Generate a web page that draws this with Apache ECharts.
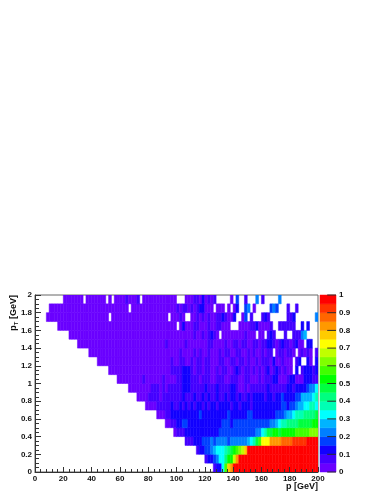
<!DOCTYPE html>
<html><head><meta charset="utf-8">
<style>html,body{margin:0;padding:0;background:#fff}#c{width:382px;height:494px}</style>
<script src="https://cdn.jsdelivr.net/npm/echarts@6/dist/echarts.min.js"></script></head>
<body><div id="c"></div>
<script>
const N=null, a=.03, b=.08, c=.13;
// fraction per 2 GeV p bin (100 columns), one list for each 0.1 GeV pT row
const row00=[N,N,N,N,N,N,N,N,N,N, N,N,N,N,N,N,N,N,N,N, N,N,N,N,N,N,N,N,N,N, N,N,N,N,N,N,N,N,N,N, N,N,N,N,N,N,N,N,N,N, N,N,N,N,N,N,N,N,N,N, N,N,N,b,c,c,.33,.55,.75,.85, .98,.98,.98,.98,.98,.98,.98,.98,.98,.98, .98,.98,.98,.98,.98,.98,.98,.98,.98,.98, .98,.98,.98,.98,.98,.98,.98,.98,.98,.98];
const row01=[N,N,N,N,N,N,N,N,N,N, N,N,N,N,N,N,N,N,N,N, N,N,N,N,N,N,N,N,N,N, N,N,N,N,N,N,N,N,N,N, N,N,N,N,N,N,N,N,N,N, N,N,N,N,N,N,N,N,N,N, b,c,c,.18,.23,.3,.33,.43,.5,.52, .7,.85,.98,.98,.98,.98,.98,.98,.98,.98, .98,.98,.98,.98,.98,.98,.98,.98,.98,.98, .98,.98,.98,.98,.98,.98,.98,.98,.98,.98];
const row02=[N,N,N,N,N,N,N,N,N,N, N,N,N,N,N,N,N,N,N,N, N,N,N,N,N,N,N,N,N,N, N,N,N,N,N,N,N,N,N,N, N,N,N,N,N,N,N,N,N,N, N,N,N,N,N,N,N,b,c,c, .18,.18,.23,.28,.33,.33,.33,.38,.43,.48, .53,.58,.63,.68,.78,.98,.98,.98,.98,.98, .98,.98,.98,.98,.98,.98,.98,.98,.98,.98, .98,.98,.98,.98,.98,.98,.98,.98,.98,.98];
const row03=[N,N,N,N,N,N,N,N,N,N, N,N,N,N,N,N,N,N,N,N, N,N,N,N,N,N,N,N,N,N, N,N,N,N,N,N,N,N,N,N, N,N,N,N,N,N,N,N,N,N, N,N,N,b,b,b,c,c,c,.18, .18,.18,.23,.18,.23,.23,.23,.23,.18,.23, .23,.23,.23,.23,.23,.28,.33,.38,.48,.58, .73,.73,.73,.83,.83,.83,.83,.88,.88,.88, .88,.93,.93,.93,.93,.93,.98,.98,.98,.98];
const row04=[N,N,N,N,N,N,N,N,N,N, N,N,N,N,N,N,N,N,N,N, N,N,N,N,N,N,N,N,N,N, N,N,N,N,N,N,N,N,N,N, N,N,N,N,N,N,N,N,N,a, b,b,b,c,c,c,c,c,c,c, c,c,c,c,c,.18,.18,.18,.18,.18, .18,.18,.18,.18,.18,.18,.18,.18,.23,.23, .33,.38,.48,.48,.53,.53,.48,.53,.53,.53, .53,.53,.58,.58,.58,.58,.58,.63,.63,.63];
const row05=[N,N,N,N,N,N,N,N,N,N, N,N,N,N,N,N,N,N,N,N, N,N,N,N,N,N,N,N,N,N, N,N,N,N,N,N,N,N,N,N, N,N,N,N,N,N,a,a,b,b, c,c,.18,.18,c,c,c,c,c,c, c,c,c,c,c,c,.18,.18,.18,c, .18,.18,.18,.18,.18,.18,.18,.18,.18,.18, .18,.18,.18,.23,.23,.28,.33,.38,.38,.43, .43,.43,.43,.48,.48,.48,.48,.48,.53,.53];
const row06=[N,N,N,N,N,N,N,N,N,N, N,N,N,N,N,N,N,N,N,N, N,N,N,N,N,N,N,N,N,N, N,N,N,N,N,N,N,N,N,N, N,N,N,a,a,a,b,b,c,c, c,c,c,c,c,c,c,c,.18,c, c,c,c,c,c,c,c,c,.18,c, c,c,c,c,c,.18,.18,c,c,c, c,c,c,c,c,.18,.18,.18,.23,.28, .28,.33,.38,.38,.38,.43,.43,.43,.43,.48];
const row07=[N,N,N,N,N,N,N,N,N,N, N,N,N,N,N,N,N,N,N,N, N,N,N,N,N,N,N,N,N,N, N,N,N,N,N,N,N,N,N,a, a,a,a,b,b,b,b,b,c,b, b,c,b,c,b,c,b,c,c,b, c,b,c,c,b,c,c,c,c,b, c,c,b,c,c,c,b,c,c,c, c,c,c,c,c,c,c,.18,.18,c, .18,.18,.23,.28,.28,.33,.33,.38,.38,.33];
const row08=[N,N,N,N,N,N,N,N,N,N, N,N,N,N,N,N,N,N,N,N, N,N,N,N,N,N,N,N,N,N, N,N,N,N,N,N,a,a,a,a, b,b,b,b,a,b,b,b,b,b, b,b,c,b,b,b,c,b,b,c, b,c,b,b,c,b,b,c,b,c, c,b,c,b,b,c,b,c,c,c, c,b,c,c,b,c,c,.18,c,c, c,c,.18,.18,.28,.28,.28,.28,.33,.38];
const row09=[N,N,N,N,N,N,N,N,N,N, N,N,N,N,N,N,N,N,N,N, N,N,N,N,N,N,N,N,N,N, N,N,N,a,a,a,a,a,a,a, a,b,b,b,a,b,a,b,b,b, b,b,c,c,c,b,b,b,b,b, c,b,b,b,c,b,b,b,b,c, c,b,a,a,b,a,b,b,b,b, b,b,c,b,b,b,b,b,b,c, c,b,c,c,c,c,.18,.23,.23,.33];
const row10=[N,N,N,N,N,N,N,N,N,N, N,N,N,N,N,N,N,N,N,N, N,N,N,N,N,N,N,N,N,a, a,a,a,a,a,a,a,a,b,a, a,a,a,a,a,b,a,a,a,a, b,b,c,c,c,b,b,b,a,b, b,b,a,a,b,b,b,a,a,b, b,b,a,a,b,b,a,a,a,b, a,b,b,b,c,c,a,a,a,b, c,c,a,a,a,c,c,c,b,b];
const row11=[N,N,N,N,N,N,N,N,N,N, N,N,N,N,N,N,N,N,N,N, N,N,N,N,N,N,a,a,a,a, a,a,a,a,a,a,a,a,a,a, a,a,a,a,a,a,a,a,b,b, b,b,c,c,c,b,a,b,b,a, b,b,a,a,b,a,b,b,a,a, b,c,b,a,b,b,a,b,a,b, a,b,c,a,b,c,b,a,b,a, a,N,c,N,b,c,c,c,b,c];
const row12=[N,N,N,N,N,N,N,N,N,N, N,N,N,N,N,N,N,N,N,N, N,N,a,a,a,a,a,a,a,a, a,a,a,a,a,a,a,a,a,a, a,a,a,a,a,a,a,a,b,a, a,b,b,a,a,b,a,b,b,a, b,b,a,a,a,b,b,a,a,b, b,a,b,b,a,b,a,a,b,a, b,b,b,a,c,a,a,b,a,a, a,N,b,c,N,N,c,a,N,c];
const row13=[N,N,N,N,N,N,N,N,N,N, N,N,N,N,N,N,N,N,N,a, a,a,a,a,a,a,a,a,a,a, a,a,a,a,a,a,a,a,a,a, a,a,a,a,a,a,a,a,a,a, a,b,a,a,a,a,b,a,b,a, a,b,a,a,a,b,a,b,b,a, a,b,b,a,a,b,a,b,a,a, b,a,b,b,N,a,b,b,a,b, b,a,N,a,b,a,b,a,N,b];
const row14=[N,N,N,N,N,N,N,N,N,N, N,N,N,N,N,a,a,a,a,a, a,a,a,a,a,a,a,a,a,a, a,a,a,a,a,a,a,a,a,a, a,a,a,a,a,a,b,a,a,a, a,a,a,b,a,a,a,a,a,a, a,b,b,a,a,a,a,b,a,a, b,b,a,b,b,a,a,b,b,a, b,b,c,c,b,a,b,c,b,b, a,b,c,a,a,N,c,c,N,N];
const row15=[N,N,N,N,N,N,N,N,N,N, N,N,a,a,a,a,a,a,a,a, a,a,a,a,a,a,a,a,a,a, a,a,a,a,a,a,a,a,a,a, a,a,a,a,a,a,a,a,a,a, a,a,a,a,a,a,b,a,a,b, a,b,c,b,a,N,a,a,a,a, a,a,a,a,b,a,a,a,N,a, a,N,b,c,b,N,N,N,b,N, N,b,b,b,.23,.28,N,N,N,N];
const row16=[N,N,N,N,N,N,N,N,a,a, a,a,a,a,a,a,a,a,a,a, a,a,a,a,a,a,a,a,a,a, a,a,a,a,a,a,a,a,a,a, a,a,a,a,a,a,a,a,a,a, N,a,c,a,a,a,b,b,a,a, a,b,a,a,b,b,a,a,a,N, N,N,a,a,a,a,b,b,c,a, a,a,a,b,N,N,b,b,b,b, b,b,N,N,c,N,c,N,N,N];
const row17=[N,N,N,N,a,a,a,a,a,a, a,a,a,a,a,a,a,a,a,a, a,a,a,a,a,a,N,a,a,a, a,a,a,a,a,a,a,a,a,a, a,a,a,a,a,a,a,N,a,a, a,b,a,N,N,a,a,b,a,b, a,b,a,a,b,b,c,b,a,a, c,N,N,a,.18,N,b,N,N,N, b,c,b,N,N,N,N,N,N,b, b,c,N,N,N,N,N,N,N,.23];
const row18=[N,N,N,N,N,a,a,a,a,a, a,a,a,a,a,a,a,a,a,a, a,a,a,a,a,a,a,a,a,a, a,a,a,N,a,a,a,a,a,a, a,a,a,a,a,a,a,a,a,a, b,a,b,b,a,b,a,b,c,c, a,a,a,N,a,a,a,N,a,N, a,c,N,N,.18,.23,N,a,N,N, N,N,N,.18,.23,.18,N,N,N,b, N,N,b,N,N,N,N,N,N,N];
const row19=[N,N,N,N,N,N,N,N,N,N, a,a,a,a,a,a,a,N,a,a, a,a,a,a,a,N,a,N,a,a, a,a,b,a,a,a,b,N,a,a, a,a,a,a,a,a,a,a,a,a, N,N,N,a,a,a,b,b,a,c, a,b,a,b,N,N,N,N,N,a, N,.18,N,N,b,N,N,N,.23,N, b,N,N,N,N,N,.23,N,N,N, N,N,N,N,N,N,N,N,N,N];
const rows=[row00,row01,row02,row03,row04,row05,row06,row07,row08,row09,row10,row11,row12,row13,row14,row15,row16,row17,row18,row19];

const zTicks=[0,.1,.2,.3,.4,.5,.6,.7,.8,.9,1];
const palette=['#6a00ff','#4400ff','#1200ff','#0040ff','#0080ff','#00b4ff','#00ffff','#00ffb4','#00ff80','#00ff40','#00ff00','#40ff00','#80ff00','#c0ff00','#ffff00','#ffcc00','#ff9900','#ff6600','#ff3300','#ff0000'];
const barLevels=[0,.05,.1,.15,.2,.25,.3,.35,.4,.45,.5,.55,.6,.65,.7,.75,.8,.85,.9,.95];

const cells=[];
rows.forEach((r,j)=>r.forEach((v,i)=>{ if(v!==null) cells.push([i*2,j/10,i*2+2,(j+1)/10,v]); }));
const barCells=barLevels.map(l=>[0,l,1,l+.05,l+.025]);

function renderCell(p,api){
  const s=api.coord([api.value(0),api.value(1)]), e=api.coord([api.value(2),api.value(3)]);
  const col=api.visual('color');
  return {type:'rect',shape:{x:s[0],y:e[1],width:e[0]-s[0],height:s[1]-e[1]},style:{fill:col,stroke:col,lineWidth:.5}};
}
function renderBarTick(p,api){
  const s=api.coord([.45,api.value(0)]), e=api.coord([1,api.value(0)]);
  return {type:'line',shape:{x1:s[0],y1:s[1],x2:e[0],y2:e[1]},style:{stroke:'#2a2a2a',lineWidth:1}};
}
const F='"Liberation Sans",Arial,sans-serif';
const lab={fontFamily:F,fontWeight:'bold',fontSize:8,color:'#111'};
const ink='#333';
const chart=echarts.init(document.getElementById('c'),null,{renderer:'canvas'});
chart.setOption({
  animation:false,backgroundColor:'#fff',
  grid:[
    {left:35,top:295,width:283,height:177,show:true,borderColor:'#666',borderWidth:1,backgroundColor:'transparent',containLabel:false},
    {left:320,top:295,width:16,height:177,show:false}
  ],
  xAxis:[
    {type:'value',gridIndex:0,min:0,max:200,interval:20,z:5,splitLine:{show:false},
     axisLine:{show:true,onZero:false,lineStyle:{color:ink,width:1}},
     axisTick:{show:true,inside:true,length:5,lineStyle:{color:ink}},
     minorTick:{show:true,splitNumber:5,length:3,lineStyle:{color:ink}},
     axisLabel:Object.assign({margin:3,showMinLabel:true,showMaxLabel:true,hideOverlap:false,formatter:v=>String(v)},lab)},
    {type:'value',gridIndex:1,min:0,max:1,show:false,splitLine:{show:false}}
  ],
  yAxis:[
    {type:'value',gridIndex:0,min:0,max:2,interval:.2,z:5,splitLine:{show:false},
     axisLine:{show:true,onZero:false,lineStyle:{color:ink,width:1}},
     axisTick:{show:true,inside:true,length:6,lineStyle:{color:ink}},
     minorTick:{show:true,splitNumber:4,length:4,lineStyle:{color:ink}},
     axisLabel:Object.assign({margin:3,showMinLabel:true,showMaxLabel:true,hideOverlap:false,formatter:v=>String(+v.toFixed(1))},lab)},
    {type:'value',gridIndex:1,min:0,max:1,interval:.1,position:'right',z:5,splitLine:{show:false},
     axisLine:{show:false},axisTick:{show:false},
     axisLabel:Object.assign({margin:3,showMinLabel:true,showMaxLabel:true,hideOverlap:false,formatter:v=>String(+v.toFixed(1))},lab)}
  ],
  visualMap:{show:false,type:'piecewise',dimension:4,seriesIndex:[0,1],
    pieces:barLevels.map((l,i)=>({gte:l,lt:l+.05,color:palette[i]}))},
  series:[
    {type:'custom',xAxisIndex:0,yAxisIndex:0,z:1,clip:true,silent:true,renderItem:renderCell,data:cells,dimensions:['x0','y0','x1','y1','v'],encode:{x:[0,2],y:[1,3]}},
    {type:'custom',xAxisIndex:1,yAxisIndex:1,z:1,silent:true,renderItem:renderCell,data:barCells,dimensions:['x0','y0','x1','y1','v'],encode:{x:[0,2],y:[1,3]}},
    {type:'custom',xAxisIndex:1,yAxisIndex:1,z:3,silent:true,renderItem:renderBarTick,data:zTicks.map(v=>[v]),encode:{y:0}}
  ],
  graphic:[
    {type:'text',z:10,x:318,y:482,style:{text:'p [GeV]',align:'right',verticalAlign:'top',fontFamily:F,fontWeight:'bold',fontSize:9,fill:'#111'}},
    {type:'text',z:10,x:8,y:295,rotation:Math.PI/2,style:{text:'{m|p}{s|T}{m| [GeV]}',align:'right',verticalAlign:'top',
      rich:{m:{fontFamily:F,fontWeight:'bold',fontSize:9,fill:'#111'},s:{fontFamily:F,fontWeight:'bold',fontSize:6,fill:'#111',verticalAlign:'bottom',padding:[5,0,0,0]}}}}
  ]
});
</script></body></html>
